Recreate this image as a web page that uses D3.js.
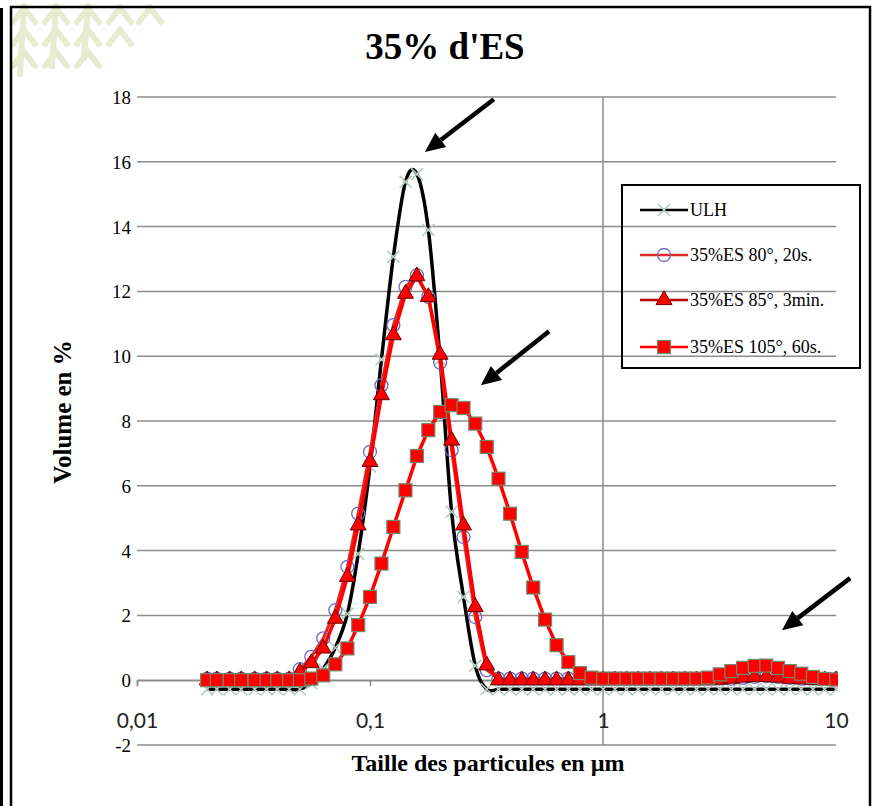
<!DOCTYPE html>
<html>
<head>
<meta charset="utf-8">
<script src="https://cdn.jsdelivr.net/npm/d3@7"></script>
<style>
  html, body { margin: 0; padding: 0; background: #ffffff; }
  svg { display: block; }
</style>
</head>
<body>
<svg id="chart" width="877" height="806"></svg>
<script>
// ---------------- DATA ----------------
const title = "35% d'ES";
const xTitle = "Taille des particules en µm";
const yTitle = "Volume en %";

// particle size classes (µm)
const sizes = [0.020, 0.022, 0.025, 0.028, 0.032, 0.036, 0.040, 0.045, 0.050, 0.056,
  0.063, 0.071, 0.080, 0.089, 0.100, 0.112, 0.126, 0.142, 0.159, 0.178,
  0.200, 0.224, 0.252, 0.283, 0.317, 0.356, 0.399, 0.448, 0.502, 0.564,
  0.632, 0.710, 0.796, 0.893, 1.002, 1.125, 1.262, 1.416, 1.589, 1.783,
  2.000, 2.244, 2.518, 2.825, 3.170, 3.557, 3.991, 4.477, 5.024, 5.637,
  6.325, 7.096, 7.962, 8.934, 10.024];

const seriesNames = ["ULH", "35%ES 80°, 20s.", "35%ES 85°, 3min.", "35%ES 105°, 60s."];

const ulh = [-0.28, -0.28, -0.28, -0.28, -0.28, -0.28, -0.28, -0.28, -0.28, -0.1,
  0.35, 1.0, 2.05, 3.9, 6.6, 9.9, 13.07, 15.38, 15.62, 13.9,
  9.9, 5.2, 2.57, 0.45, -0.28, -0.28, -0.28, -0.28, -0.28, -0.28,
  -0.28, -0.28, -0.28, -0.28, -0.28, -0.28, -0.28, -0.28, -0.28, -0.28,
  -0.28, -0.28, -0.28, -0.28, -0.28, -0.28, -0.28, -0.28, -0.28, -0.28,
  -0.28, -0.28, -0.28, -0.28, -0.28];

const es80 = [0.05, 0.05, 0.05, 0.05, 0.05, 0.05, 0.05, 0.05, 0.34, 0.72,
  1.29, 2.16, 3.5, 5.14, 7.05, 9.1, 10.96, 12.14, 12.5, 11.83,
  9.8, 7.1, 4.42, 1.95, 0.31, 0.05, 0.05, 0.05, 0.05, 0.05,
  0.05, 0.05, 0.05, 0.05, 0.05, 0.05, 0.05, 0.05, 0.05, 0.05,
  0.05, 0.05, 0.05, 0.05, 0.05, 0.05, 0.07, 0.1, 0.12, 0.1,
  0.07, 0.05, 0.05, 0.05, 0.05];

const es85 = [0, 0, 0, 0, 0, 0, 0, 0, 0.25, 0.53,
  0.98, 1.9, 3.19, 4.78, 6.74, 8.8, 10.65, 11.93, 12.47, 11.83,
  10.05, 7.4, 4.78, 2.26, 0.46, 0, 0, 0, 0, 0,
  0, 0, 0, 0, 0, 0, 0, 0, 0, 0,
  0, 0, 0, 0, 0.02, 0.05, 0.08, 0.1, 0.1, 0.08,
  0.05, 0.03, 0.01, 0, 0];

const es105 = [0, 0, 0, 0, 0, 0, 0, 0, 0, 0.05,
  0.15, 0.49, 0.98, 1.7, 2.57, 3.6, 4.73, 5.86, 6.92, 7.72,
  8.28, 8.49, 8.4, 7.92, 7.2, 6.22, 5.14, 3.96, 2.86, 1.87,
  1.08, 0.56, 0.22, 0.08, 0.05, 0.05, 0.05, 0.05, 0.05, 0.05,
  0.05, 0.05, 0.05, 0.08, 0.18, 0.28, 0.38, 0.44, 0.45, 0.38,
  0.28, 0.2, 0.1, 0.04, 0.02];

const yTicks = [-2, 0, 2, 4, 6, 8, 10, 12, 14, 16, 18];
const xTicks = [0.01, 0.1, 1, 10];
const xTickLabels = ["0,01", "0,1", "1", "10"];

// annotation arrows in data coordinates: [x tail, y tail, x tip, y tip]
const arrows = [
  [0.340, 17.93, 0.172, 16.3],
  [0.587, 10.77, 0.299, 9.1],
  [11.5, 3.15, 5.86, 1.54]
];

// ---------------- LAYOUT ----------------
const svg = d3.select("#chart");
const x = d3.scaleLog().domain([0.01, 10]).range([137, 836]);
const y = d3.scaleLinear().domain([-2, 18]).range([745, 97]);
const serif = "'Liberation Serif', 'Times New Roman', serif";

// watermark (decorative chevrons, top-left)
const wm = svg.append("g").attr("stroke", "#e8ebd2").attr("stroke-width", 6)
  .attr("fill", "none").attr("stroke-linecap", "round");
[[24, 0], [56, 0], [88, 0], [120, 0], [150, 0]].forEach(([cx], ci) => {
  [8, 30, 52].forEach((cy, ri) => {
    if (ci === 4 && ri > 0) return;
    if (ci === 3 && ri > 1) return;
    wm.append("path").attr("d", `M${cx - 11},${cy + 14}L${cx},${cy}L${cx + 11},${cy + 14}`);
  });
  if (ci < 3) wm.append("path").attr("d", `M${cx},${6}L${cx - 4},${74 - ci * 8}`);
});

// outer frame
svg.append("rect").attr("x", 0).attr("y", 8).attr("width", 3).attr("height", 806).attr("fill", "#000");
svg.append("rect").attr("x", 11).attr("y", 7).attr("width", 859).attr("height", 820)
  .attr("fill", "none").attr("stroke", "#000").attr("stroke-width", 2.5);

// title
svg.append("text").attr("x", 445).attr("y", 59).attr("text-anchor", "middle")
  .attr("font-family", serif).attr("font-weight", "bold").attr("font-size", 37).text(title);

// gridlines
const grid = svg.append("g");
grid.selectAll("line.h").data(yTicks).join("line")
  .attr("x1", x(0.01)).attr("x2", x(10))
  .attr("y1", d => y(d)).attr("y2", d => y(d))
  .attr("stroke", "#8c8c8c").attr("stroke-width", 1.5);
grid.append("line").attr("x1", x(1)).attr("x2", x(1)).attr("y1", y(18)).attr("y2", y(-2))
  .attr("stroke", "#8c8c8c").attr("stroke-width", 1.5);

// y tick labels
svg.append("g").selectAll("text").data(yTicks).join("text")
  .attr("x", 131).attr("y", d => y(d) + 7).attr("text-anchor", "end")
  .attr("font-family", serif).attr("font-size", 19).attr("fill", "#000").text(d => d);

// x axis ticks + labels (axis at y=0)
const xAxis = d3.axisBottom(x).tickValues(xTicks).tickSize(6)
  .tickFormat((d, i) => xTickLabels[i]);
const xg = svg.append("g").attr("transform", `translate(0,${y(0)})`).call(xAxis);
xg.select(".domain").attr("stroke", "#8c8c8c").attr("stroke-width", 1.5);
xg.selectAll(".tick line").attr("stroke", "#8c8c8c").attr("stroke-width", 1.5);
xg.selectAll(".tick text").attr("dy", 0).attr("y", 48)
  .attr("font-family", "Lato, 'Open Sans', sans-serif").attr("font-size", 21).attr("fill", "#222");

// axis titles
svg.append("text").attr("x", 488).attr("y", 771).attr("text-anchor", "middle")
  .attr("font-family", serif).attr("font-weight", "bold").attr("font-size", 24).text(xTitle);
svg.append("text").attr("transform", "translate(71,412) rotate(-90)").attr("text-anchor", "middle")
  .attr("font-family", serif).attr("font-weight", "bold").attr("font-size", 25).text(yTitle);

// clip
svg.append("clipPath").attr("id", "plotclip").append("rect")
  .attr("x", 130).attr("y", 80).attr("width", 708).attr("height", 680);

const plot = svg.append("g").attr("clip-path", "url(#plotclip)");

// marker makers
function drawX(g, cx, cy) {
  g.append("path").attr("d", `M${cx - 6},${cy - 6}L${cx + 6},${cy + 6}M${cx - 6},${cy + 6}L${cx + 6},${cy - 6}`)
    .attr("stroke", "#b3cdbf").attr("stroke-width", 1.6).attr("fill", "none");
}
function drawCircle(g, cx, cy) {
  g.append("circle").attr("cx", cx).attr("cy", cy).attr("r", 6.5)
    .attr("fill", "none").attr("stroke", "#6b6bc4").attr("stroke-width", 1.3);
}
const triPath = d3.symbol(d3.symbolTriangle, 110)();
function drawTri(g, cx, cy) {
  g.append("path").attr("d", triPath).attr("transform", `translate(${cx},${cy})`)
    .attr("fill", "#ff0000").attr("stroke", "#6a0000").attr("stroke-width", 1);
}
function drawSquare(g, cx, cy) {
  g.append("rect").attr("x", cx - 6.5).attr("y", cy - 6.5).attr("width", 13).attr("height", 13)
    .attr("fill", "#ff0000").attr("stroke", "#6f8a6f").attr("stroke-width", 1.2);
}

const series = [
  { name: seriesNames[0], values: ulh, color: "#000000", width: 3.5, curve: d3.curveCatmullRom.alpha(0), marker: drawX },
  { name: seriesNames[1], values: es80, color: "#e02828", width: 3, curve: d3.curveLinear, marker: drawCircle },
  { name: seriesNames[2], values: es85, color: "#ff0000", width: 3.5, curve: d3.curveLinear, marker: drawTri },
  { name: seriesNames[3], values: es105, color: "#ff0000", width: 3.5, curve: d3.curveLinear, marker: drawSquare }
];

series.forEach(s => {
  const pts = sizes.map((v, i) => [v, s.values[i]]);
  const line = d3.line().x(d => x(d[0])).y(d => y(d[1])).curve(s.curve);
  const g = plot.append("g");
  g.append("path").attr("d", line(pts)).attr("fill", "none")
    .attr("stroke", s.color).attr("stroke-width", s.width).attr("stroke-linejoin", "round");
  pts.forEach(d => s.marker(g, x(d[0]), y(d[1])));
});

// annotation arrows
const ag = svg.append("g");
arrows.forEach(a => {
  const x1 = x(a[0]), y1 = y(a[1]), x2 = x(a[2]), y2 = y(a[3]);
  const ang = Math.atan2(y2 - y1, x2 - x1);
  const hl = 20, hw = 9;
  const bx = x2 - hl * Math.cos(ang), by = y2 - hl * Math.sin(ang);
  ag.append("line").attr("x1", x1).attr("y1", y1).attr("x2", bx).attr("y2", by)
    .attr("stroke", "#000").attr("stroke-width", 4.5);
  const px = -Math.sin(ang) * hw, py = Math.cos(ang) * hw;
  ag.append("path").attr("d", `M${x2},${y2}L${bx + px},${by + py}L${bx - px},${by - py}Z`).attr("fill", "#000");
});

// legend
const lg = svg.append("g");
lg.append("rect").attr("x", 622).attr("y", 185).attr("width", 238).attr("height", 183)
  .attr("fill", "none").attr("stroke", "#000").attr("stroke-width", 2);
const legY = [210, 255, 300, 347];
series.forEach((s, i) => {
  const yy = legY[i];
  lg.append("line").attr("x1", 640).attr("x2", 688).attr("y1", yy).attr("y2", yy)
    .attr("stroke", i === 2 ? "#c00000" : s.color).attr("stroke-width", 2.5);
  s.marker(lg, 664, yy);
  lg.append("text").attr("x", 690).attr("y", yy + 6)
    .attr("font-family", serif).attr("font-size", 18).attr("fill", "#000").text(s.name);
});
</script>
</body>
</html>
